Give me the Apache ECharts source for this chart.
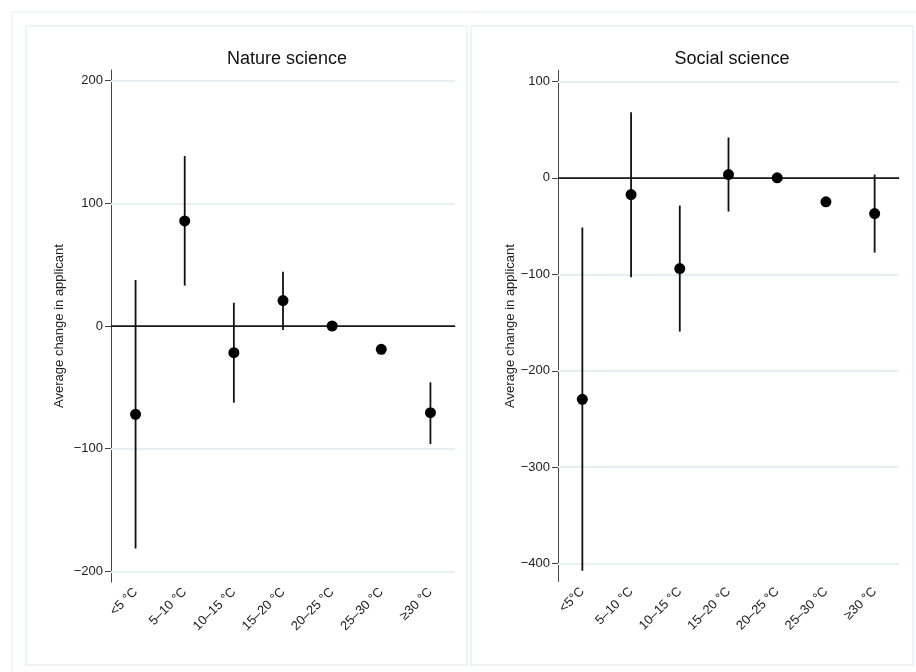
<!DOCTYPE html>
<html>
<head>
<meta charset="utf-8">
<script src="https://cdn.jsdelivr.net/npm/echarts@6/dist/echarts.min.js"></script>
<style>html,body{margin:0;padding:0;background:#fff;}#c{width:916px;height:672px;}</style>
</head>
<body>
<div id="c"></div>
<script>
var categories = ['<5 °C', '5–10 °C', '10–15 °C', '15–20 °C', '20–25 °C', '25–30 °C', '≥30 °C'];
var categoriesSocial = ['<5°C', '5–10 °C', '10–15 °C', '15–20 °C', '20–25 °C', '25–30 °C', '≥30 °C'];

var natureEst = [-72, 85.6, -21.7, 20.7, 0, -19, -70.6];
var natureLow = [-181.4, 32.9, -62.5, -3.3, null, null, -96.2];
var natureHigh = [37.5, 138.5, 19, 44.3, null, null, -45.9];

var socialEst = [-229.6, -17.3, -94, 3.4, 0, -24.9, -37];
var socialLow = [-407.4, -103, -159.4, -35, null, null, -77.5];
var socialHigh = [-51.5, 68.1, -28.7, 41.8, null, null, 3.4];

var natureTicks = [-200, -100, 0, 100, 200];
var socialTicks = [-400, -300, -200, -100, 0, 100];

var natureRange = [-208.6, 208.6];
var socialRange = [-418.5, 111.3];

function ciData(low, high) {
  var out = [];
  for (var i = 0; i < low.length; i++) {
    if (low[i] !== null && high[i] !== null) out.push([i, low[i], high[i]]);
  }
  return out;
}
function ptData(est) { return est.map(function (v, i) { return [i, v]; }); }

function renderCI(params, api) {
  var p1 = api.coord([api.value(0), api.value(1)]);
  var p2 = api.coord([api.value(0), api.value(2)]);
  return { type: 'line', shape: { x1: p1[0], y1: p1[1], x2: p2[0], y2: p2[1] },
           style: { stroke: '#111', lineWidth: 1.8 } };
}

var FONT = 'Liberation Sans, Arial, sans-serif';
var chart = echarts.init(document.getElementById('c'), null, { renderer: 'canvas' });

function yAxisOpt(gridIndex, range, ticks, gap) {
  return {
    type: 'value', gridIndex: gridIndex, min: range[0], max: range[1],
    name: 'Average change in applicant', nameLocation: 'middle', nameGap: gap, nameRotate: 90,
    nameTextStyle: { fontFamily: FONT, fontSize: 13, color: '#222' },
    axisLine: { show: true, lineStyle: { color: '#444', width: 1 } },
    axisTick: { show: true, length: 6, customValues: ticks, lineStyle: { color: '#444' } },
    axisLabel: { customValues: ticks, fontFamily: FONT, fontSize: 13, color: '#222', margin: 8,
                 formatter: function (v) { return v < 0 ? '−' + Math.abs(v) : String(v); } },
    splitLine: { show: false }
  };
}
function xAxisOpt(gridIndex, cats) {
  return {
    type: 'category', gridIndex: gridIndex, data: cats, boundaryGap: true,
    axisLine: { lineStyle: { color: '#444', width: 1 } },
    axisTick: { alignWithLabel: true, length: 6, lineStyle: { color: '#444' } },
    axisLabel: { rotate: 45, fontFamily: FONT, fontSize: 13, color: '#222', margin: 8, interval: 0 }
  };
}
function gridLines(ticks) {
  return ticks.filter(function (t) { return t !== 0; }).map(function (t) {
    return { yAxis: t, lineStyle: { color: '#e6f0f4', width: 2, type: 'solid' } };
  }).concat([{ yAxis: 0, lineStyle: { color: '#111', width: 1.5, type: 'solid' } }]);
}

chart.setOption({
  animation: false,
  backgroundColor: '#fff',
  graphic: [
    { type: 'rect', shape: { x: 12, y: 12, width: 920, height: 700 }, style: { fill: 'none', stroke: '#e6ebee', lineWidth: 1 }, z: -10 },
    { type: 'rect', shape: { x: 26, y: 26, width: 441, height: 639 }, style: { fill: 'none', stroke: '#e9f1f5', lineWidth: 1.5 }, z: -10 },
    { type: 'rect', shape: { x: 471, y: 26, width: 442, height: 639 }, style: { fill: 'none', stroke: '#e9f1f5', lineWidth: 1.5 }, z: -10 }
  ],
  title: [
    { text: 'Nature science', left: 282, top: 45, textAlign: 'center',
      textStyle: { fontFamily: FONT, fontSize: 18, fontWeight: 'normal', color: '#111' } },
    { text: 'Social science', left: 727, top: 45, textAlign: 'center',
      textStyle: { fontFamily: FONT, fontSize: 18, fontWeight: 'normal', color: '#111' } }
  ],
  grid: [
    { left: 111, right: 461, top: 70, bottom: 90 },
    { left: 558, right: 17, top: 70.5, bottom: 90.5 }
  ],
  xAxis: [xAxisOpt(0, categories), xAxisOpt(1, categoriesSocial)],
  yAxis: [yAxisOpt(0, natureRange, natureTicks, 45), yAxisOpt(1, socialRange, socialTicks, 39)],
  series: [
    { type: 'custom', xAxisIndex: 0, yAxisIndex: 0, renderItem: renderCI, data: ciData(natureLow, natureHigh), z: 3,
      markLine: { silent: true, symbol: ['none', 'none'], label: { show: false }, data: gridLines(natureTicks), z: 1 } },
    { type: 'scatter', xAxisIndex: 0, yAxisIndex: 0, data: ptData(natureEst), symbolSize: 11,
      itemStyle: { color: '#000', opacity: 1 }, z: 4 },
    { type: 'custom', xAxisIndex: 1, yAxisIndex: 1, renderItem: renderCI, data: ciData(socialLow, socialHigh), z: 3,
      markLine: { silent: true, symbol: ['none', 'none'], label: { show: false }, data: gridLines(socialTicks), z: 1 } },
    { type: 'scatter', xAxisIndex: 1, yAxisIndex: 1, data: ptData(socialEst), symbolSize: 11,
      itemStyle: { color: '#000', opacity: 1 }, z: 4 }
  ]
});
</script>
</body>
</html>
